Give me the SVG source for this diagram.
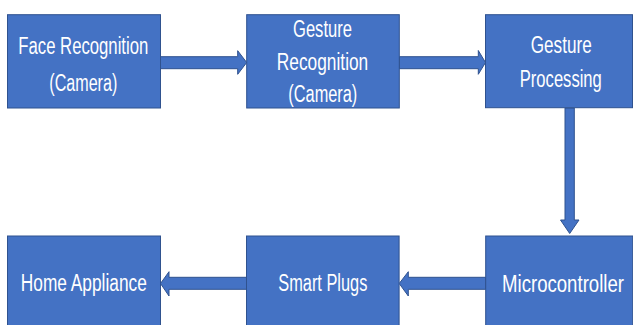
<svg xmlns="http://www.w3.org/2000/svg" width="633" height="325" viewBox="0 0 633 325">
  <style>
    .box { fill: #4472C4; stroke: #2F528F; stroke-width: 1; }
    .arrow { fill: #4472C4; stroke: #2F528F; stroke-width: 1; stroke-linejoin: miter; }
    .label { fill: #FFFFFF; font-family: "Liberation Sans", Arial, sans-serif; font-size: 23px; text-anchor: middle; }
  </style>
  <rect width="633" height="325" fill="#FFFFFF"/>

  <!-- connectors: block arrows -->
  <g id="connectors">
    <polygon class="arrow" points="160.5,56.7 237.7,56.7 237.7,50.7 246.7,62.5 237.7,74.3 237.7,68.7 160.5,68.7"/>
    <polygon class="arrow" points="399.3,56.7 478.3,56.7 478.3,50.5 485.5,62.5 478.3,74.3 478.3,68.7 399.3,68.7"/>
    <polygon class="arrow" points="565,108 574.3,108 574.3,220 579,220 569.7,233.5 560.5,220 565,220"/>
    <polygon class="arrow" points="485.7,277.3 408.3,277.3 408.3,271.7 399.2,283.5 408.3,296 408.3,289.3 485.7,289.3"/>
    <polygon class="arrow" points="246.5,277.3 169,277.3 169,271.7 160.5,283.5 169,296 169,289.3 246.5,289.3"/>
  </g>

  <g id="face-recognition">
    <rect class="box" x="7.5" y="14.7" width="153" height="93.3"/>
    <text class="label" x="83.3" y="54" textLength="130" lengthAdjust="spacingAndGlyphs">Face Recognition</text>
    <text class="label" x="83.3" y="90.5" textLength="68" lengthAdjust="spacingAndGlyphs">(Camera)</text>
  </g>

  <g id="gesture-recognition">
    <rect class="box" x="246.7" y="14.7" width="152.6" height="93.3"/>
    <text class="label" x="322.5" y="36.7" textLength="59" lengthAdjust="spacingAndGlyphs">Gesture</text>
    <text class="label" x="322.5" y="70" textLength="91.5" lengthAdjust="spacingAndGlyphs">Recognition</text>
    <text class="label" x="322.8" y="102" textLength="69" lengthAdjust="spacingAndGlyphs">(Camera)</text>
  </g>

  <g id="gesture-processing">
    <rect class="box" x="485.5" y="14.7" width="147" height="93"/>
    <text class="label" x="561.2" y="53.3" textLength="61" lengthAdjust="spacingAndGlyphs">Gesture</text>
    <text class="label" x="560.8" y="87.3" textLength="82" lengthAdjust="spacingAndGlyphs">Processing</text>
  </g>

  <g id="microcontroller">
    <rect class="box" x="485.7" y="236" width="147" height="95"/>
    <text class="label" x="563" y="291.5" textLength="122" lengthAdjust="spacingAndGlyphs">Microcontroller</text>
  </g>

  <g id="smart-plugs">
    <rect class="box" x="246.5" y="236" width="152.6" height="95"/>
    <text class="label" x="322.8" y="291.2" textLength="89" lengthAdjust="spacingAndGlyphs">Smart Plugs</text>
  </g>

  <g id="home-appliance">
    <rect class="box" x="7.5" y="236" width="153" height="95"/>
    <text class="label" x="83.8" y="291" textLength="126" lengthAdjust="spacingAndGlyphs">Home Appliance</text>
  </g>
</svg>
